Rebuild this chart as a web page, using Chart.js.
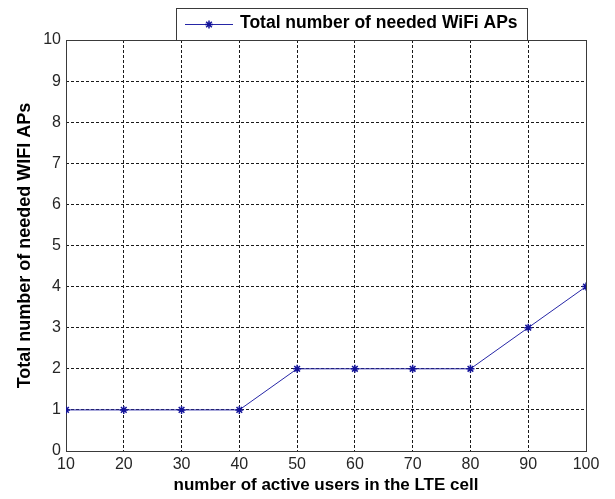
<!DOCTYPE html>
<html>
<head>
<meta charset="utf-8">
<script src="https://cdn.jsdelivr.net/npm/chart.js@4"></script>
<style>
  html, body { margin: 0; padding: 0; background: #fff; }
  #wrap { width: 615px; height: 499px; }
</style>
</head>
<body>
<div id="wrap"><canvas id="apChart" width="615" height="499"></canvas></div>
<script>
// data
const users = [10, 20, 30, 40, 50, 60, 70, 80, 90, 100];
const neededAPs = [1, 1, 1, 1, 2, 2, 2, 2, 3, 4];
const seriesLabel = 'Total number of needed WiFi APs';
const xTitle = 'number of active users in the LTE cell';
const yTitle = 'Total number of needed WIFI APs';

const lineColor = '#2626a6';
const markerColor = '#14149a';
const fontFamily = '"Liberation Sans", Arial, Helvetica, sans-serif';

// closed axes box like matlab
const boxPlugin = {
    id: 'box',
    beforeDatasetsDraw(chart) {
        const a = chart.chartArea;
        const ctx = chart.ctx;
        ctx.save();
        ctx.strokeStyle = '#3a3a3a';
        ctx.lineWidth = 1;
        ctx.strokeRect(Math.round(a.left) + 0.5, Math.round(a.top) + 0.5,
            Math.round(a.right - a.left), Math.round(a.bottom - a.top));
        ctx.restore();
    }
};

// legend box sitting on top of the axes
const legendPlugin = {
    id: 'boxLegend',
    afterDraw(chart) {
        const a = chart.chartArea;
        const ctx = chart.ctx;
        const left = Math.round(a.left) + 110;
        const w = 351, h = 32;
        const top = Math.round(a.top) - h;
        const midY = top + 16;
        ctx.save();
        ctx.fillStyle = '#fff';
        ctx.fillRect(left, top, w, h);
        ctx.strokeStyle = '#3a3a3a';
        ctx.lineWidth = 1;
        ctx.strokeRect(left + 0.5, top + 0.5, w, h);

        ctx.strokeStyle = lineColor;
        ctx.beginPath();
        ctx.moveTo(left + 9, midY + 0.5);
        ctx.lineTo(left + 57, midY + 0.5);
        ctx.stroke();
        ctx.strokeStyle = markerColor;
        ctx.lineWidth = 1.5;
        Chart.helpers.drawPoint(ctx, { pointStyle: 'star', radius: 4, rotation: 0, borderWidth: 1.5 }, left + 33, midY + 0.5);

        ctx.fillStyle = '#000';
        ctx.font = 'bold 17.5px ' + fontFamily;
        ctx.textBaseline = 'middle';
        ctx.textAlign = 'left';
        ctx.fillText(seriesLabel, left + 64, midY - 1);
        ctx.restore();
    }
};

function makeChart() {
    const data = {
        datasets: [
            {
                label: seriesLabel,
                data: users.map((u, i) => ({ x: u, y: neededAPs[i] })),
                borderColor: lineColor,
                borderWidth: 1,
                fill: false,
                tension: 0,
                pointStyle: 'star',
                pointRadius: 4,
                pointBorderWidth: 1.5,
                pointBorderColor: markerColor,
                pointBackgroundColor: markerColor,
            }
        ]
    };

    const gridStyle = {
        color: '#1a1a1a',
        lineWidth: 1,
        drawTicks: false,
    };

    const config = {
        type: 'line',
        data: data,
        plugins: [boxPlugin, legendPlugin],
        options: {
            responsive: false,
            animation: false,
            layout: {
                padding: { top: 40, right: 29, left: 0, bottom: 0 }
            },
            plugins: {
                legend: { display: false },
                tooltip: { enabled: false },
            },
            scales: {
                x: {
                    type: 'linear',
                    min: 10,
                    max: 100,
                    afterFit(scale) { scale.height = 48; },
                    ticks: {
                        stepSize: 10,
                        padding: 4,
                        color: '#262626',
                        font: { family: fontFamily, size: 16 },
                        maxRotation: 0,
                    },
                    grid: gridStyle,
                    border: { display: false, dash: [3, 2] },
                    title: {
                        display: true,
                        text: xTitle,
                        color: '#000',
                        font: { family: fontFamily, size: 17, weight: 'bold' },
                        padding: { top: 0, bottom: 3 },
                    }
                },
                y: {
                    min: 0,
                    max: 10,
                    afterFit(scale) { scale.width = 66; },
                    ticks: {
                        stepSize: 1,
                        padding: 5,
                        color: '#262626',
                        font: { family: fontFamily, size: 16 },
                    },
                    grid: gridStyle,
                    border: { display: false, dash: [3, 2] },
                    title: {
                        display: true,
                        text: yTitle,
                        color: '#000',
                        font: { family: fontFamily, size: 18, weight: 'bold' },
                        padding: { top: 14, bottom: 0 },
                    }
                }
            },
        }
    };

    new Chart(document.getElementById('apChart'), config);
}

makeChart();
</script>
</body>
</html>
